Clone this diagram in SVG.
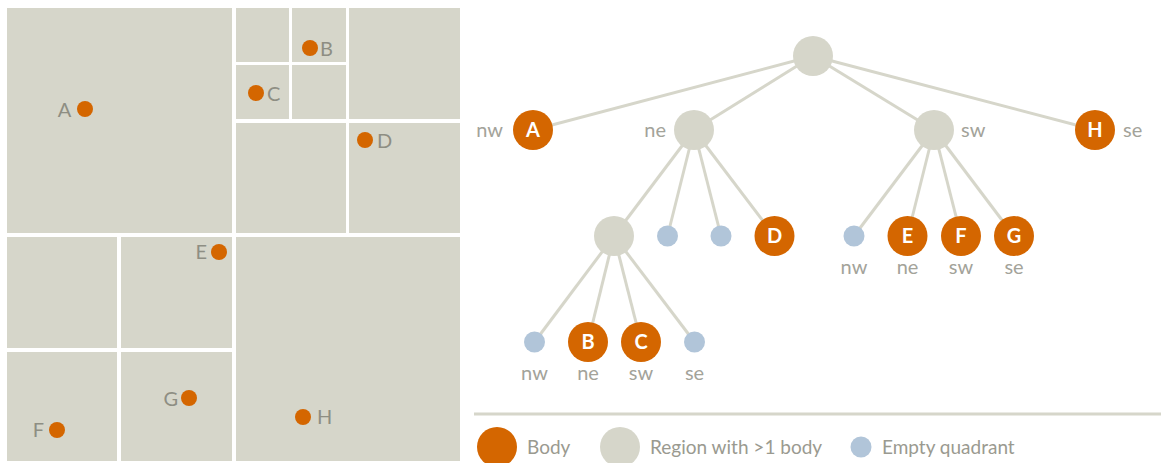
<svg xmlns="http://www.w3.org/2000/svg" width="1161" height="463" viewBox="0 0 1161 463">
<style>
.q{fill:#d6d6ca}
.dot{fill:#d46600}
.ml{font-family:Lato,"Liberation Sans",sans-serif;font-size:20px;fill:#8e8e83}
.edge{stroke:#d6d6ca;stroke-width:3;fill:none}
.body{fill:#d46600}
.reg{fill:#d6d6ca}
.emp{fill:#b1c5d9}
.nl{font-family:Lato,"Liberation Sans",sans-serif;font-size:20px;font-weight:bold;fill:#ffffff;text-anchor:middle}
.tl{font-family:Lato,"Liberation Sans",sans-serif;font-size:20px;fill:#a3a39a}
.lg{font-family:Lato,"Liberation Sans",sans-serif;font-size:19px;fill:#9a9a90}
</style>
<rect width="1161" height="463" fill="#ffffff"/>
<g id="map">
<rect class="q" x="7" y="8" width="225" height="225"/>
<rect class="q" x="236" y="8" width="53" height="54"/>
<rect class="q" x="292" y="8" width="54" height="54"/>
<rect class="q" x="236" y="65" width="53" height="54"/>
<rect class="q" x="292" y="65" width="54" height="54"/>
<rect class="q" x="349" y="8" width="111" height="111"/>
<rect class="q" x="236" y="123" width="110" height="110"/>
<rect class="q" x="349" y="123" width="111" height="110"/>
<rect class="q" x="7" y="237" width="110" height="111"/>
<rect class="q" x="121" y="237" width="111" height="111"/>
<rect class="q" x="7" y="352" width="110" height="109"/>
<rect class="q" x="121" y="352" width="111" height="109"/>
<rect class="q" x="236" y="237" width="224" height="224"/>
<circle class="dot" cx="85" cy="109" r="8"/><text class="ml" x="64.5" y="117" text-anchor="middle">A</text>
<circle class="dot" cx="310" cy="48" r="8"/><text class="ml" x="320" y="56">B</text>
<circle class="dot" cx="256" cy="93" r="8"/><text class="ml" x="267" y="101">C</text>
<circle class="dot" cx="365" cy="140" r="8"/><text class="ml" x="377" y="148">D</text>
<circle class="dot" cx="219" cy="252" r="8"/><text class="ml" x="207" y="259" text-anchor="end">E</text>
<circle class="dot" cx="57" cy="430" r="8"/><text class="ml" x="44" y="437" text-anchor="end">F</text>
<circle class="dot" cx="189" cy="398" r="8"/><text class="ml" x="178" y="406" text-anchor="end">G</text>
<circle class="dot" cx="303" cy="417" r="8"/><text class="ml" x="317" y="424">H</text>
</g>
<g id="connectors">
<line class="edge" x1="813" y1="56" x2="533" y2="130"/>
<line class="edge" x1="813" y1="56" x2="694" y2="130"/>
<line class="edge" x1="813" y1="56" x2="934" y2="130"/>
<line class="edge" x1="813" y1="56" x2="1095" y2="130"/>
<line class="edge" x1="694" y1="130" x2="614" y2="236"/>
<line class="edge" x1="694" y1="130" x2="667.5" y2="236"/>
<line class="edge" x1="694" y1="130" x2="721" y2="236"/>
<line class="edge" x1="694" y1="130" x2="774.5" y2="236"/>
<line class="edge" x1="934" y1="130" x2="854" y2="236"/>
<line class="edge" x1="934" y1="130" x2="907.5" y2="236"/>
<line class="edge" x1="934" y1="130" x2="961" y2="236"/>
<line class="edge" x1="934" y1="130" x2="1014" y2="236"/>
<line class="edge" x1="614" y1="236" x2="534.5" y2="342"/>
<line class="edge" x1="614" y1="236" x2="588" y2="342"/>
<line class="edge" x1="614" y1="236" x2="641" y2="342"/>
<line class="edge" x1="614" y1="236" x2="694.5" y2="342"/>
</g>
<g id="root"><circle class="reg" cx="813" cy="56" r="20"/></g>
<g id="nodeA"><circle class="body" cx="533" cy="130" r="20"/><text class="nl" x="533" y="137">A</text><text class="tl" x="503" y="137" text-anchor="end">nw</text></g>
<g id="nodeNE"><circle class="reg" cx="694" cy="130" r="20"/><text class="tl" x="666" y="137" text-anchor="end">ne</text></g>
<g id="nodeSW"><circle class="reg" cx="934" cy="130" r="20"/><text class="tl" x="961" y="137">sw</text></g>
<g id="nodeH"><circle class="body" cx="1095" cy="130" r="20"/><text class="nl" x="1095" y="137">H</text><text class="tl" x="1123" y="137">se</text></g>
<g id="nodeNE-NW"><circle class="reg" cx="614" cy="236" r="20"/></g>
<g id="nodeNE-NE"><circle class="emp" cx="667.5" cy="236" r="10.5"/></g>
<g id="nodeNE-SW"><circle class="emp" cx="721" cy="236" r="10.5"/></g>
<g id="nodeD"><circle class="body" cx="774.5" cy="236" r="20"/><text class="nl" x="774.5" y="243">D</text></g>
<g id="nodeSW-NW"><circle class="emp" cx="854" cy="236" r="10.5"/><text class="tl" x="854" y="274" text-anchor="middle">nw</text></g>
<g id="nodeE"><circle class="body" cx="907.5" cy="236" r="20"/><text class="nl" x="907.5" y="243">E</text><text class="tl" x="907.5" y="274" text-anchor="middle">ne</text></g>
<g id="nodeF"><circle class="body" cx="961" cy="236" r="20"/><text class="nl" x="961" y="243">F</text><text class="tl" x="961" y="274" text-anchor="middle">sw</text></g>
<g id="nodeG"><circle class="body" cx="1014" cy="236" r="20"/><text class="nl" x="1014" y="243">G</text><text class="tl" x="1014" y="274" text-anchor="middle">se</text></g>
<g id="nodeNW-NW"><circle class="emp" cx="534.5" cy="342" r="10.5"/><text class="tl" x="534.5" y="380" text-anchor="middle">nw</text></g>
<g id="nodeB"><circle class="body" cx="588" cy="342" r="20"/><text class="nl" x="588" y="349">B</text><text class="tl" x="588" y="380" text-anchor="middle">ne</text></g>
<g id="nodeC"><circle class="body" cx="641" cy="342" r="20"/><text class="nl" x="641" y="349">C</text><text class="tl" x="641" y="380" text-anchor="middle">sw</text></g>
<g id="nodeNW-SE"><circle class="emp" cx="694.5" cy="342" r="10.5"/><text class="tl" x="694.5" y="380" text-anchor="middle">se</text></g>
<g id="legend">
<line x1="474" y1="414" x2="1161" y2="414" stroke="#d6d6ca" stroke-width="3"/>
<circle class="body" cx="497" cy="447" r="20"/><text class="lg" x="527" y="454">Body</text>
<circle class="reg" cx="620" cy="447" r="20"/><text class="lg" x="650" y="454">Region with &gt;1 body</text>
<circle class="emp" cx="861" cy="447" r="10.5"/><text class="lg" x="882" y="454">Empty quadrant</text>
</g>
</svg>
